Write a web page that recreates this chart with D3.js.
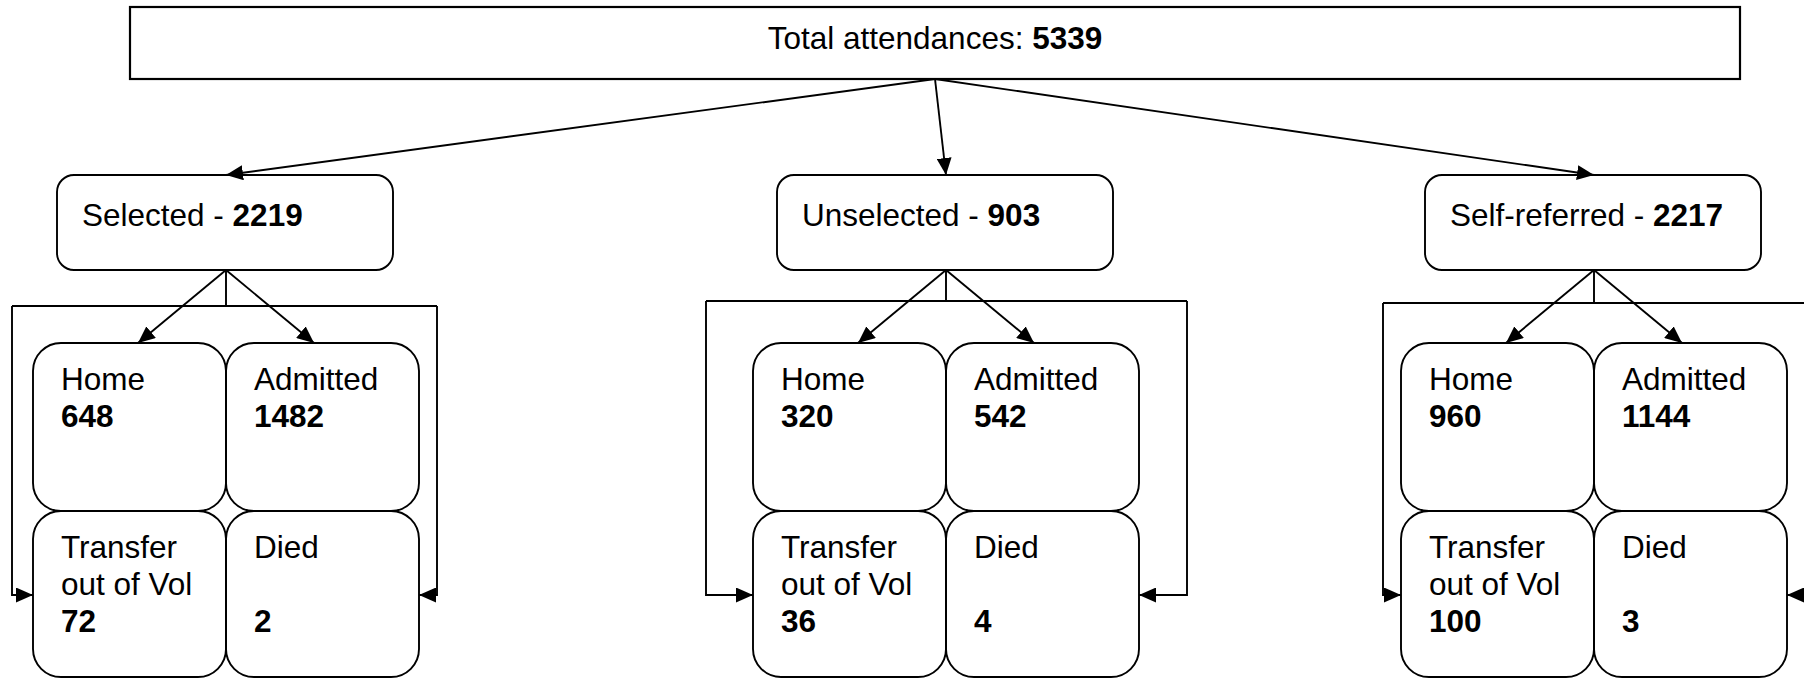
<!DOCTYPE html>
<html>
<head>
<meta charset="utf-8">
<script src="https://cdn.jsdelivr.net/npm/d3@7"></script>
<style>
  body { margin: 0; background: #fff; }
  svg text { font-family: "Liberation Sans", Arial, sans-serif; font-size: 31.5px; fill: #000; }
</style>
</head>
<body>
<div id="container"></div>
<script>
/**
 * DATA
 * */
const totalLabel = "Total attendances: ";
const totalAttendances = 5339;
const referralTypes = ["Selected", "Unselected", "Self-referred"];
const referralCounts = [2219, 903, 2217];
const outcomeNames = ["Home", "Admitted", "Transfer", "Died"];
const outcomeLabels = [["Home"], ["Admitted"], ["Transfer", "out of Vol"], ["Died", ""]];
const homeCounts = [648, 320, 960];
const admittedCounts = [1482, 542, 1144];
const transferCounts = [72, 36, 100];
const diedCounts = [2, 4, 3];

/**
 * LAYOUT
 * */
const width = 1804,
    height = 678;
const topBox = { x0: 130, x1: 1740, y0: 7, y1: 79 };
const midBox = { halfL: 169, halfR: 167, y0: 175, y1: 270, r: 17 };
const childW = 193,
    rowTops = [343, 511],
    rowBottom = 677,
    childR = 28,
    sideArrowY = 595,
    textDx = 28,
    lineH = 37;
// bracket offsets differ a bit per group in the original drawing
const bracket = [
    { l: -214, r: 211, y: 306 },
    { l: -240, r: 241, y: 301 },
    { l: -211, r: 211, y: 303 }
];

const xCenter = d3.scaleOrdinal()
    .domain(referralTypes)
    .range([226, 946, 1594]);

// column scale inside a group: left / right child box
const col = d3.scaleBand()
    .domain([0, 1])
    .range([-childW, childW]);

const groups = referralTypes.map((t, i) => ({
    type: t,
    count: referralCounts[i],
    c: xCenter(t),
    br: bracket[i],
    children: [
        { name: outcomeNames[0], lines: outcomeLabels[0], value: homeCounts[i], col: 0, row: 0 },
        { name: outcomeNames[1], lines: outcomeLabels[1], value: admittedCounts[i], col: 1, row: 0 },
        { name: outcomeNames[2], lines: outcomeLabels[2], value: transferCounts[i], col: 0, row: 1 },
        { name: outcomeNames[3], lines: outcomeLabels[3], value: diedCounts[i], col: 1, row: 1 }
    ]
}));

const svg = d3.select("#container")
    .append("svg")
    .attr("width", width)
    .attr("height", height);

svg.append("defs").append("marker")
    .attr("id", "arrow")
    .attr("viewBox", "0 0 17 15")
    .attr("refX", 17)
    .attr("refY", 7.5)
    .attr("markerWidth", 17)
    .attr("markerHeight", 15)
    .attr("markerUnits", "userSpaceOnUse")
    .attr("orient", "auto")
    .append("path")
    .attr("d", "M0,0 L17,7.5 L0,15 Z")
    .attr("fill", "#000");

const lineStyle = sel => sel
    .attr("fill", "none")
    .attr("stroke", "#000")
    .attr("stroke-width", 1.9);

/* top box */
svg.append("rect")
    .attr("x", topBox.x0)
    .attr("y", topBox.y0)
    .attr("width", topBox.x1 - topBox.x0)
    .attr("height", topBox.y1 - topBox.y0)
    .attr("fill", "#fff")
    .call(lineStyle)
    .attr("stroke-width", 2.2);

const topText = svg.append("text")
    .attr("x", (topBox.x0 + topBox.x1) / 2)
    .attr("y", 49)
    .attr("text-anchor", "middle");
topText.append("tspan").text(totalLabel);
topText.append("tspan").attr("font-weight", "bold").text(totalAttendances);

const fanX = (topBox.x0 + topBox.x1) / 2;

/* arrows from top box to each referral box */
svg.selectAll("line.top-arrow")
    .data(groups)
    .join("line")
    .attr("class", "top-arrow")
    .attr("x1", fanX)
    .attr("y1", topBox.y1)
    .attr("x2", d => d.c)
    .attr("y2", midBox.y0)
    .call(lineStyle)
    .attr("marker-end", "url(#arrow)");

const g = svg.selectAll("g.group")
    .data(groups)
    .join("g")
    .attr("class", "group");

/* brackets going round to transfer / died */
g.append("path")
    .attr("d", d => `M${d.c},${midBox.y1} V${d.br.y} M${d.c + d.br.l},${d.br.y} H${d.c + d.br.r}`)
    .call(lineStyle);
g.append("path")
    .attr("d", d => `M${d.c + d.br.l},${d.br.y} V${sideArrowY} H${d.c - childW}`)
    .call(lineStyle)
    .attr("marker-end", "url(#arrow)");
g.append("path")
    .attr("d", d => `M${d.c + d.br.r},${d.br.y} V${sideArrowY} H${d.c + childW}`)
    .call(lineStyle)
    .attr("marker-end", "url(#arrow)");

/* arrows to home / admitted */
g.selectAll("line.child-arrow")
    .data(d => [-88, 88].map(o => ({ c: d.c, o })))
    .join("line")
    .attr("class", "child-arrow")
    .attr("x1", d => d.c)
    .attr("y1", midBox.y1)
    .attr("x2", d => d.c + d.o)
    .attr("y2", rowTops[0])
    .call(lineStyle)
    .attr("marker-end", "url(#arrow)");

/* referral boxes */
g.append("rect")
    .attr("x", d => d.c - midBox.halfL)
    .attr("y", midBox.y0)
    .attr("width", midBox.halfL + midBox.halfR)
    .attr("height", midBox.y1 - midBox.y0)
    .attr("rx", midBox.r)
    .attr("fill", "#fff")
    .call(lineStyle);

const midText = g.append("text")
    .attr("x", d => d.c - midBox.halfL + 25)
    .attr("y", 226);
midText.append("tspan").text(d => d.type + " - ");
midText.append("tspan").attr("font-weight", "bold").text(d => d.count);

/* outcome boxes */
const child = g.selectAll("g.child")
    .data(d => d.children.map(k => Object.assign({ c: d.c }, k)))
    .join("g")
    .attr("class", "child")
    .attr("transform", d => `translate(${d.c + col(d.col)},${rowTops[d.row]})`);

child.append("rect")
    .attr("width", col.bandwidth())
    .attr("height", d => (d.row === 0 ? rowTops[1] : rowBottom) - rowTops[d.row])
    .attr("rx", childR)
    .attr("fill", "#fff")
    .call(lineStyle);

child.each(function (d) {
    const t = d3.select(this).append("text").attr("x", textDx);
    d.lines.forEach((ln, i) => {
        t.append("tspan").attr("x", textDx).attr("y", 47 + i * lineH).text(ln);
    });
    t.append("tspan")
        .attr("x", textDx)
        .attr("y", 47 + d.lines.length * lineH)
        .attr("font-weight", "bold")
        .text(d.value);
});
</script>
</body>
</html>
